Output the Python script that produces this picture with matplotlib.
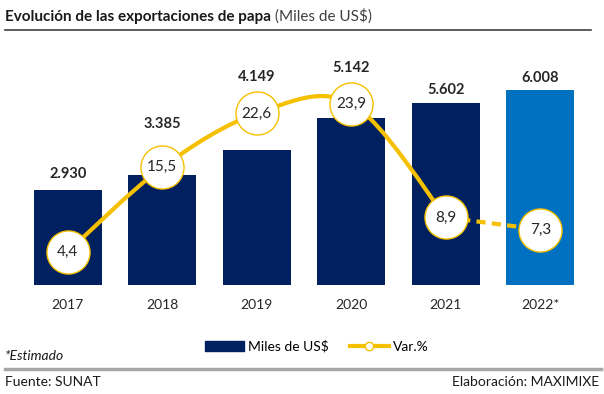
import matplotlib
matplotlib.use("Agg")
import matplotlib.pyplot as plt
from matplotlib.path import Path
from matplotlib.patches import PathPatch
from matplotlib.lines import Line2D
from matplotlib.patches import Patch

plt.rcParams['font.family'] = ['Lato', 'DejaVu Sans']

years = ['2017', '2018', '2019', '2020', '2021', '2022*']
exports = [2930, 3385, 4149, 5142, 5602, 6008]
var_pct = [4.4, 15.5, 22.6, 23.9, 8.9, 7.3]

navy = '#002060'
blue = '#0070C0'
gold = '#F5C000'

fig = plt.figure(figsize=(6.04, 3.94), dpi=100)
ax = fig.add_axes([0.034, 0.2766, 0.939, 0.578])
x = list(range(len(years)))
colors = [navy] * 5 + [blue]
ax.bar(x, exports, width=0.72, color=colors, zorder=2)
ax.set_xlim(-0.5, 5.5)
ax.set_ylim(0, 7000)
ax.set_yticks([])
ax.set_xticks(x)
ax.set_xticklabels(years, fontsize=10, color='#262626')
ax.tick_params(axis='x', length=0, pad=10)
for s in ax.spines.values():
    s.set_visible(False)

# label offsets (pixels above bar top), keeps clear of the circles
label_off = [16, 51, 73, 50, 13, 12]
for i, v in enumerate(exports):
    ax.annotate(f"{v:,}".replace(',', '.'), (i, v), xytext=(0, label_off[i]),
                textcoords='offset pixels', ha='center', va='center',
                fontsize=10.5, fontweight='bold', color='#262626')

ax2 = ax.twinx()
ax2.set_ylim(0, 30)
ax2.set_yticks([])
for s in ax2.spines.values():
    s.set_visible(False)

# smoothed line through points 0..4 (Catmull-Rom as bezier)
pts = list(zip(x[:5], var_pct[:5]))
verts = [pts[0]]
codes = [Path.MOVETO]
n = len(pts)
for i in range(n - 1):
    p0 = pts[i - 1] if i > 0 else pts[i]
    p1 = pts[i]
    p2 = pts[i + 1]
    p3 = pts[i + 2] if i + 2 < n else pts[i + 1]
    c1 = (p1[0] + (p2[0] - p0[0]) / 6, p1[1] + (p2[1] - p0[1]) / 6)
    c2 = (p2[0] - (p3[0] - p1[0]) / 6, p2[1] - (p3[1] - p1[1]) / 6)
    verts += [c1, c2, p2]
    codes += [Path.CURVE4] * 3
ax2.add_patch(PathPatch(Path(verts, codes), facecolor='none', edgecolor=gold,
                        lw=3, zorder=3))
ax2.plot(x[4:], var_pct[4:], color=gold, lw=3, ls=(0, (2.2, 1.5)), zorder=3)
ax2.plot(x, var_pct, ls='none', marker='o', ms=31, mfc='white', mec=gold,
         mew=1, zorder=4)
for i, v in enumerate(var_pct):
    ax2.text(i, v, f"{v:.1f}".replace('.', ','), ha='center', va='center',
             fontsize=11, color='#262626', zorder=5)

handles = [Patch(color=navy, label='Miles de US$'),
           Line2D([], [], color=gold, lw=3, marker='o', ms=6, mfc='white',
                  mec=gold, label='Var.%')]
fig.legend(handles=handles, loc='center', bbox_to_anchor=(0.525, 0.121),
           ncol=2, frameon=False, fontsize=10, handlelength=2.8,
           handleheight=0.7, columnspacing=1.5, handletextpad=0.3)

# title and lines
fig.text(0.008, 0.958, "Evolución de las exportaciones de papa", fontsize=11,
         fontweight='bold', color='#1a1a1a', va='center')
fig.text(0.455, 0.958, "(Miles de US$)", fontsize=11, color='#404040', va='center')
fig.add_artist(Line2D([0.008, 0.978], [0.923, 0.923], color='#404040', lw=1.2))
fig.add_artist(Line2D([0.008, 0.995], [0.063, 0.063], color='#A6A6A6', lw=2.5))
fig.text(0.008, 0.097, "*Estimado", fontsize=10, fontstyle='italic',
         color='#1a1a1a', va='center')
fig.text(0.008, 0.031, "Fuente: SUNAT", fontsize=10, color='#1a1a1a', va='center')
fig.text(0.992, 0.031, "Elaboración: MAXIMIXE", fontsize=10, color='#1a1a1a',
         va='center', ha='right')

fig.savefig('out.png', dpi=100)
